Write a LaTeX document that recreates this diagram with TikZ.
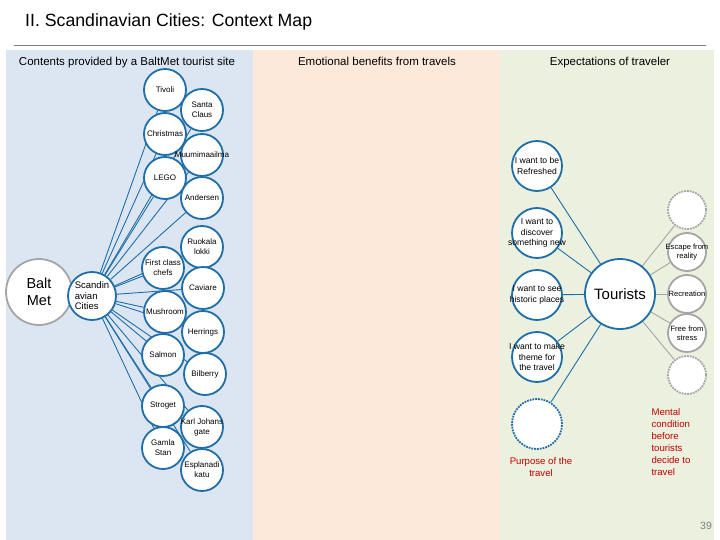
\documentclass[tikz,border=0pt]{standalone}
\usepackage{fontspec}
\setmainfont{Liberation Sans}
\pgfdeclarelayer{panel}
\pgfdeclarelayer{edges}
\pgfsetlayers{panel,edges,main}
\definecolor{bluec}{RGB}{31,110,168}
\definecolor{grayc}{RGB}{165,165,165}
\definecolor{redc}{RGB}{192,0,0}
\definecolor{pblue}{RGB}{220,230,242}
\definecolor{porange}{RGB}{253,233,217}
\definecolor{pgreen}{RGB}{235,241,222}
\tikzset{
  bc/.style={circle,draw=bluec,line width=1.8pt,fill=white,minimum size=42pt,inner sep=0pt},
  tc/.style={circle,draw=bluec,line width=1.8pt,fill=white,minimum size=50pt,inner sep=0pt},
  gc/.style={circle,draw=grayc,line width=1.8pt,fill=white,minimum size=38pt,inner sep=0pt},
  bt/.style={align=center,inner sep=0pt,font=\fontsize{8}{10}\selectfont},
  tt/.style={align=center,inner sep=0pt,font=\fontsize{8.6}{10.7}\selectfont},
  gt/.style={align=center,inner sep=0pt,font=\fontsize{7.6}{9}\selectfont},
  bl/.style={draw=bluec,line width=0.9pt},
  gl/.style={draw=grayc,line width=0.9pt},
  hdr/.style={anchor=base,font=\fontsize{11.5}{13}\selectfont},
  redt/.style={text=redc,font=\fontsize{9.6}{12}\selectfont},
}
\begin{document}
\begin{tikzpicture}[x=1pt,y=-1pt]
\useasboundingbox (0,0) rectangle (720,540);
\begin{pgfonlayer}{panel}
\fill[white] (0,0) rectangle (720,540);
\fill[pblue] (6,50) rectangle (253,540);
\fill[porange] (253,50) rectangle (500,540);
\fill[pgreen] (500,50) rectangle (714,540);
\draw[gray,line width=0.8pt] (14,45) -- (706,45);
\end{pgfonlayer}
\node[anchor=base west,inner sep=0pt,font=\fontsize{17.7}{19}\selectfont] (title) at (25,27) {II. Scandinavian Cities: Context Map};
\node[hdr] (h1) at (127,66) {Contents provided by a BaltMet tourist site};
\node[hdr] (h2) at (377,66) {Emotional benefits from travels};
\node[hdr] (h3) at (610,66) {Expectations of traveler};

% left
\node[circle,draw=grayc,line width=1.8pt,fill=white,minimum size=66pt,inner sep=0pt,align=center,font=\fontsize{14.5}{17}\selectfont] (balt) at (39,292) {Balt\\Met};
\node[circle,draw=bluec,line width=1.8pt,fill=white,minimum size=48pt,inner sep=0pt,align=left,font=\fontsize{9.5}{10.5}\selectfont] (sc) at (92,296) {Scandin\\avian\\Cities};
\node[bc,label={[bt]center:Tivoli}] (tivoli) at (165,90) {};
\node[bc,label={[bt]center:Santa\\Claus}] (santa) at (202,110) {};
\node[bc,label={[bt]center:Christmas}] (christ) at (165,134) {};
\node[bc,label={[bt]center:Muumimaailma}] (muumi) at (202,155) {};
\node[bc,label={[bt]center:LEGO}] (lego) at (165,178) {};
\node[bc,label={[bt]center:Andersen}] (anders) at (202,198) {};
\node[bc,label={[bt]center:Ruokala\\lokki}] (ruok) at (202,247) {};
\node[bc,label={[bt]center:First class\\chefs}] (chefs) at (163,268) {};
\node[bc,label={[bt]center:Caviare}] (cav) at (203,288) {};
\node[bc,label={[bt]center:Mushroom}] (mush) at (165,312) {};
\node[bc,label={[bt]center:Herrings}] (herr) at (203,332) {};
\node[bc,label={[bt]center:Salmon}] (salm) at (163,355) {};
\node[bc,label={[bt]center:Bilberry}] (bilb) at (205,374) {};
\node[bc,label={[bt]center:Stroget}] (strog) at (163,406) {};
\node[bc,label={[bt]center:Karl Johans\\gate}] (karl) at (202,427) {};
\node[bc,label={[bt]center:Gamla\\Stan}] (gamla) at (163,448) {};
\node[bc,label={[bt]center:Esplanadi\\katu}] (espl) at (202,470) {};
\begin{pgfonlayer}{edges}
\draw[gl] (balt) -- (sc);
\foreach \n in {tivoli,santa,christ,muumi,lego,anders,ruok,chefs,cav,mush,herr,salm,bilb,strog,karl,gamla,espl}
  \draw[bl] (sc) -- (\n);
\end{pgfonlayer}

% right
\node[circle,draw=bluec,line width=1.8pt,fill=white,minimum size=70pt,inner sep=0pt,font=\fontsize{15}{17}\selectfont] (tour) at (620,294) {Tourists};
\node[tc,label={[tt]center:I want to be\\Refreshed}] (refr) at (537,166) {};
\node[tc,label={[tt]center:I want to\\discover\\something new}] (disc) at (537,233) {};
\node[tc,label={[tt]center:I want to see\\historic places}] (hist) at (537,295) {};
\node[tc,label={[tt]center:I want to make\\theme for\\the travel}] (theme) at (537,357) {};
\node[tc,densely dotted] (purp) at (537,424) {};
\node[redt,align=center] (purpt) at (541,467) {Purpose of the\\travel};
\node[gc,densely dotted] (g1) at (687,210) {};
\node[gc,label={[gt]center:Escape from\\reality}] (esc) at (687,252) {};
\node[gc,label={[gt]center:Recreation}] (recr) at (687,294) {};
\node[gc,label={[gt]center:Free from\\stress}] (free) at (687,333) {};
\node[gc,densely dotted] (g2) at (687,375) {};
\node[redt,align=left,anchor=north west] (ment) at (648,405) {Mental\\condition\\before\\tourists\\decide to\\travel};
\node[text=gray,font=\fontsize{10.5}{12}\selectfont] (pg) at (706,526) {39};
\begin{pgfonlayer}{edges}
\foreach \n in {refr,disc,hist,theme,purp} \draw[bl] (tour) -- (\n);
\foreach \n in {g1,esc,recr,free,g2} \draw[gl] (tour) -- (\n);
\end{pgfonlayer}
\end{tikzpicture}
\end{document}
